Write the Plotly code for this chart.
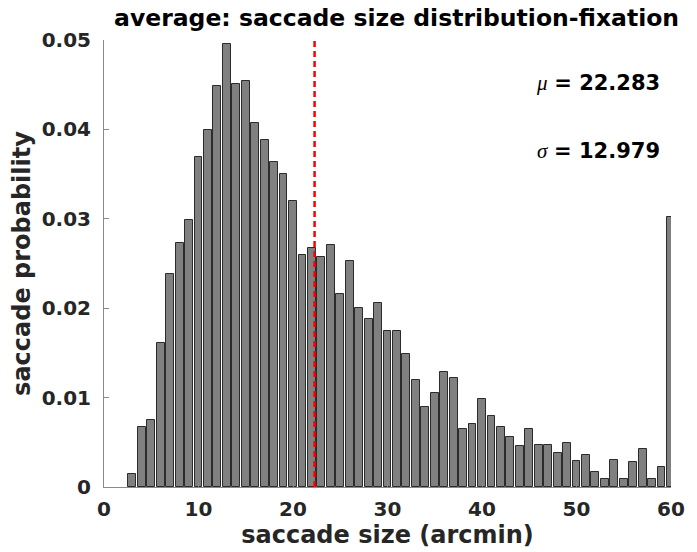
import plotly.graph_objects as go

# Histogram of saccade sizes (1-arcmin bins, centres 3..60)
bin_centers = list(range(3, 61))
probability = [
    0.0015, 0.0067, 0.0075, 0.0161, 0.0238, 0.0273, 0.0299, 0.0369, 0.0399, 0.0448,
    0.0496, 0.0451, 0.0454, 0.0407, 0.0388, 0.0364, 0.0350, 0.0320, 0.0260, 0.0267,
    0.0257, 0.0271, 0.0216, 0.0253, 0.0200, 0.0188, 0.0206, 0.0175, 0.0174, 0.0149,
    0.0120, 0.0090, 0.0105, 0.0129, 0.0122, 0.0065, 0.0070, 0.0098, 0.0079, 0.0067,
    0.0056, 0.0046, 0.0065, 0.0047, 0.0047, 0.0038, 0.0049, 0.0029, 0.0036, 0.0017,
    0.0009, 0.0030, 0.0009, 0.0028, 0.0043, 0.0009, 0.0022, 0.0302,
]
mean_size = 22.283
std_size = 12.979

x_ticks = [0, 10, 20, 30, 40, 50, 60]
y_ticks = [0, 0.01, 0.02, 0.03, 0.04, 0.05]
y_tick_text = ["0", "0.01", "0.02", "0.03", "0.04", "0.05"]

FONT = "DejaVu Sans, Liberation Sans, Arial, sans-serif"

fig = go.Figure()
fig.add_trace(go.Bar(
    x=bin_centers,
    y=probability,
    width=0.83,
    marker=dict(color="#808080", line=dict(color="#2b2b2b", width=1)),
    showlegend=False,
    hoverinfo="x+y",
))

# dashed mean marker
fig.add_shape(
    type="line", xref="x", yref="y",
    x0=mean_size, x1=mean_size, y0=0, y1=0.05,
    line=dict(color="#ff0000", width=2.5, dash="6px,4px"),
    layer="above",
)

stat_style = "font-family:'Liberation Serif', 'Times New Roman', serif;font-style:italic;font-weight:normal"
fig.add_annotation(
    x=59.0, y=0.0452, xref="x", yref="y", xanchor="right", yanchor="middle",
    text=f"<span style=\"{stat_style}\">μ</span> <b>= {mean_size:.3f}</b>",
    showarrow=False, font=dict(family=FONT, size=21, color="black"),
)
fig.add_annotation(
    x=59.0, y=0.0376, xref="x", yref="y", xanchor="right", yanchor="middle",
    text=f"<span style=\"{stat_style}\">σ</span> <b>= {std_size:.3f}</b>",
    showarrow=False, font=dict(family=FONT, size=21, color="black"),
)

axis_common = dict(
    showline=True, linecolor="#8a8a8a", linewidth=1,
    ticks="inside", ticklen=5, tickcolor="#8a8a8a", tickwidth=1,
    showgrid=False, zeroline=False, mirror=False,
    tickfont=dict(family=FONT, size=20, color="#262626"),
)

fig.update_layout(
    width=697, height=552,
    margin=dict(l=104, r=18, t=40, b=62),
    paper_bgcolor="white", plot_bgcolor="white",
    bargap=0,
    title=dict(
        text="<b>average: saccade size distribution-fixation</b>",
        font=dict(family=FONT, size=23.5, color="black"),
        x=0.569, xanchor="center", y=0.967, yanchor="middle",
    ),
    xaxis=dict(
        range=[0, 60], tickvals=x_ticks,
        ticktext=[f"<b>{v}</b>" for v in x_ticks],
        ticklabelstandoff=4,
        title=dict(text="<b>saccade size (arcmin)</b>", standoff=2,
                   font=dict(family=FONT, size=24, color="#262626")),
        **axis_common,
    ),
    yaxis=dict(
        range=[0, 0.05], tickvals=y_ticks,
        ticktext=[f"<b>{t}</b>" for t in y_tick_text],
        ticklabelstandoff=8,
        title=dict(text="<b>saccade probability</b>", standoff=4,
                   font=dict(family=FONT, size=24, color="#262626")),
        **axis_common,
    ),
)

fig.write_html("out.html")
